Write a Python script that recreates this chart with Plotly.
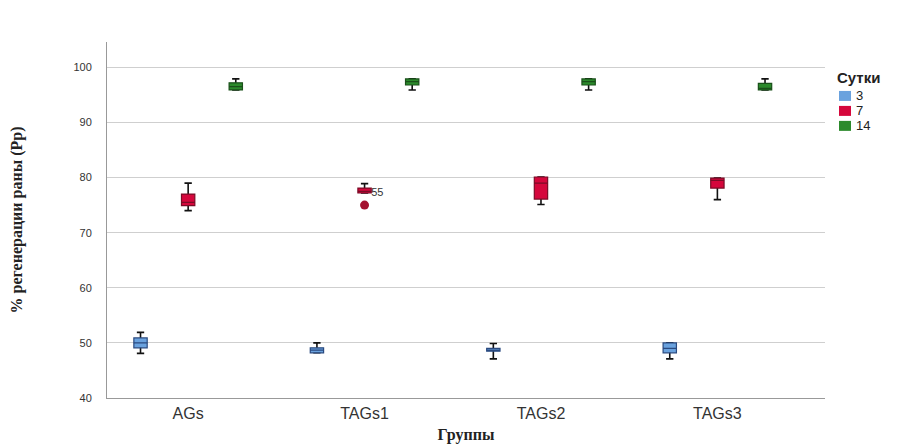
import plotly.graph_objects as go

groups = ["AGs", "TAGs1", "TAGs2", "TAGs3"]
days = ["3", "7", "14"]

q1_3 = [49.1, 48.2, 48.5, 48.2]
med_3 = [50.0, 48.7, 48.7, 49.0]
q3_3 = [50.9, 49.1, 49.0, 50.0]
lo_3 = [48.1, 48.2, 47.1, 47.1]
hi_3 = [51.9, 50.0, 49.9, 50.0]

q1_7 = [74.9, 77.2, 76.1, 78.1]
med_7 = [75.5, 77.5, 79.0, 79.5]
q3_7 = [77.0, 78.1, 80.1, 79.9]
lo_7 = [74.0, 77.2, 75.1, 76.0]
hi_7 = [79.0, 78.9, 80.1, 79.9]

q1_14 = [95.9, 96.8, 96.8, 95.9]
med_14 = [96.5, 97.4, 97.4, 96.2]
q3_14 = [97.2, 97.9, 97.9, 97.1]
lo_14 = [95.9, 95.9, 95.9, 95.9]
hi_14 = [97.9, 97.9, 97.9, 97.9]

outlier_group = ["TAGs1"]
outlier_value = [75.0]
outlier_label = ["55"]

fills = {"3": "#6aa2de", "7": "#d5073c", "14": "#2c8a2c"}
edges = {"3": "#2a4a80", "7": "#7a0c26", "14": "#1a501a"}

stats = {
    "3": (q1_3, med_3, q3_3, lo_3, hi_3),
    "7": (q1_7, med_7, q3_7, lo_7, hi_7),
    "14": (q1_14, med_14, q3_14, lo_14, hi_14),
}

fig = go.Figure()
for d in days:
    q1, med, q3, lo, hi = stats[d]
    # whiskers (black)
    fig.add_trace(go.Box(
        x=groups, q1=med, median=med, q3=med, lowerfence=lo, upperfence=hi,
        offsetgroup=d, fillcolor="rgba(0,0,0,0)",
        line=dict(color="#111111", width=1.6), whiskerwidth=0.55,
        showlegend=False, hoverinfo="skip"))
    # box body
    fig.add_trace(go.Box(
        x=groups, q1=q1, median=med, q3=q3, lowerfence=q1, upperfence=q3,
        offsetgroup=d, fillcolor=fills[d],
        line=dict(color=edges[d], width=1.2), whiskerwidth=0.55,
        showlegend=False, name=d))

fig.add_trace(go.Scatter(
    x=outlier_group, y=outlier_value, mode="markers+text",
    text=outlier_label, textposition="top right",
    textfont=dict(family="Liberation Sans, Arial", size=11, color="#333333"),
    marker=dict(color="#a4122f", size=9, symbol="circle"),
    showlegend=False, cliponaxis=False))

W, H = 906, 444
L, R, T, B = 107, 825, 42, 398.5


def px(x):
    return (x - L) / (R - L)


def py(y):
    return (B - y) / (B - T)


shapes = []
annotations = []
leg_x0 = 839
leg_items_y = [96, 111, 126]
for d, yc in zip(days, leg_items_y):
    shapes.append(dict(type="rect", xref="paper", yref="paper",
                       x0=px(leg_x0), x1=px(leg_x0 + 12),
                       y0=py(yc + 5), y1=py(yc - 5),
                       fillcolor=fills[d], line=dict(width=0)))
    annotations.append(dict(xref="paper", yref="paper", x=px(leg_x0 + 15), y=py(yc),
                            text=d, showarrow=False, xanchor="left", yanchor="middle",
                            font=dict(family="Liberation Sans, Arial", size=13, color="#222222")))
annotations.append(dict(xref="paper", yref="paper", x=px(leg_x0 - 4), y=py(78),
                        text="<b>Сутки</b>", showarrow=False, xanchor="left", yanchor="middle",
                        font=dict(family="Liberation Sans, Arial", size=15, color="#222222")))

fig.update_layout(
    width=W, height=H,
    margin=dict(l=L, r=W - R, t=T, b=H - B, autoexpand=False),
    paper_bgcolor="white", plot_bgcolor="white",
    boxmode="group", boxgap=0.19, boxgroupgap=0.72,
    showlegend=False,
    shapes=shapes, annotations=annotations,
    xaxis=dict(
        type="category", categoryorder="array", categoryarray=groups,
        range=[-0.46, 3.61], automargin=False,
        showline=True, linecolor="#999999", linewidth=1,
        showgrid=False, ticks="", ticklabelstandoff=1,
        tickfont=dict(family="Liberation Sans, Arial", size=16, color="#333333"),
        title=dict(text="<b>Группы</b>", standoff=12,
                   font=dict(family="Liberation Serif, Times New Roman", size=16, color="#222222")),
    ),
    yaxis=dict(
        range=[40, 104.6], tickvals=[40, 50, 60, 70, 80, 90, 100], automargin=False,
        showline=True, linecolor="#999999", linewidth=1,
        showgrid=True, gridcolor="#cfcfcf", gridwidth=1, zeroline=False,
        ticks="", ticklabelstandoff=12,
        tickfont=dict(family="Liberation Sans, Arial", size=11, color="#333333"),
        title=dict(text="<b>% регенерации раны (Рр)</b>", standoff=46,
                   font=dict(family="Liberation Serif, Times New Roman", size=16, color="#222222")),
    ),
)

fig.write_html("out.html")
